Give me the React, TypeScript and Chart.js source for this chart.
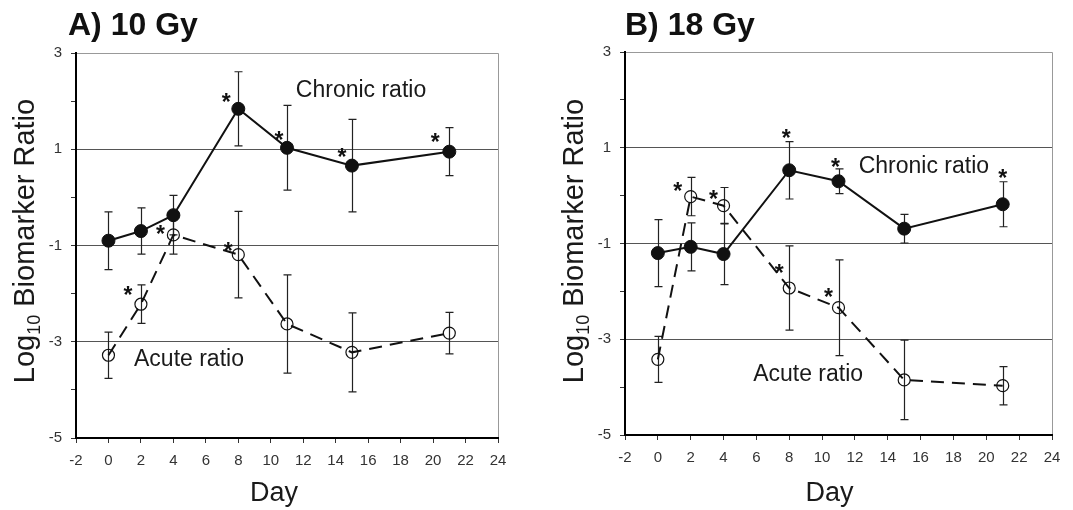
import React, { useEffect, useRef } from "react";
import { Chart, registerables } from "chart.js";

Chart.register(...registerables);

// ---------- data ----------
const DAYS = [0, 2, 4, 8, 11, 15, 21];
const X_MIN = -2;
const X_MAX = 24;
const Y_MIN = -5;
const Y_MAX = 3;
const Y_TICK_LABELS = [3, 1, -1, -3, -5];
const Y_GRID_VALUES = [1, -1, -3];

const A_CHRONIC = [-0.9, -0.7, -0.37, 1.84, 1.03, 0.66, 0.95];
const A_CHRONIC_ERR = [0.6, 0.48, 0.41, 0.77, 0.88, 0.96, 0.5];
const A_CHRONIC_SIG = [false, false, false, true, true, true, true];
const A_ACUTE = [-3.28, -2.22, -0.78, -1.19, -2.63, -3.22, -2.82];
const A_ACUTE_ERR = [0.48, 0.4, 0.4, 0.9, 1.02, 0.82, 0.43];
const A_ACUTE_SIG = [false, true, true, true, false, false, false];

const B_CHRONIC = [-1.2, -1.07, -1.22, 0.53, 0.3, -0.69, -0.18];
const B_CHRONIC_ERR = [0.7, 0.5, 0.64, 0.6, 0.26, 0.3, 0.47];
const B_CHRONIC_SIG = [false, false, false, true, true, false, true];
const B_ACUTE = [-3.42, -0.02, -0.21, -1.93, -2.34, -3.85, -3.97];
const B_ACUTE_ERR = [0.48, 0.4, 0.38, 0.88, 1.0, 0.83, 0.4];
const B_ACUTE_SIG = [false, true, true, true, true, false, false];

// ---------- layout / style ----------
const FONT = "'Liberation Sans', Arial, Helvetica, sans-serif";
const INK = "#111";

type Off = [number, number] | null;
const A_CHRONIC_STAR: Off[] = [null, null, null, [-12, -12], [-8, -13], [-10, -14], [-14, -15]];
const A_ACUTE_STAR: Off[] = [null, [-13, -14], [-13, -6], [-10, -9], null, null, null];
const B_CHRONIC_STAR: Off[] = [null, null, null, [-3, -37], [-3, -19], null, [0, -31]];
const B_ACUTE_STAR: Off[] = [null, [-13, -11], [-10, -12], [-10, -20], [-10, -16], null, null];

interface PanelCfg {
  left: number;
  width: number;
  yAxisWidth: number;
  xAxisHeight: number;
  padTop: number;
  padRight: number;
  title: string;
  titleX: number;
  yLabelX: number;
  dayShift: number;
  chronic: number[];
  chronicErr: number[];
  chronicSig: boolean[];
  chronicStar: Off[];
  acute: number[];
  acuteErr: number[];
  acuteSig: boolean[];
  acuteStar: Off[];
  chronicLabel: [number, number];
  acuteLabel: [number, number];
}

const PANELS: PanelCfg[] = [
  {
    left: 0, width: 536, yAxisWidth: 76, xAxisHeight: 72, padTop: 53, padRight: 38,
    title: "A) 10 Gy", titleX: 68, yLabelX: 34, dayShift: -13,
    chronic: A_CHRONIC, chronicErr: A_CHRONIC_ERR, chronicSig: A_CHRONIC_SIG, chronicStar: A_CHRONIC_STAR,
    acute: A_ACUTE, acuteErr: A_ACUTE_ERR, acuteSig: A_ACUTE_SIG, acuteStar: A_ACUTE_STAR,
    chronicLabel: [15.56, 2.22], acuteLabel: [4.96, -3.38],
  },
  {
    left: 536, width: 537, yAxisWidth: 89, xAxisHeight: 75, padTop: 52, padRight: 21,
    title: "B) 18 Gy", titleX: 89, yLabelX: 47, dayShift: -9,
    chronic: B_CHRONIC, chronicErr: B_CHRONIC_ERR, chronicSig: B_CHRONIC_SIG, chronicStar: B_CHRONIC_STAR,
    acute: B_ACUTE, acuteErr: B_ACUTE_ERR, acuteSig: B_ACUTE_SIG, acuteStar: B_ACUTE_STAR,
    chronicLabel: [16.2, 0.6], acuteLabel: [9.15, -3.74],
  },
];

function makeChart(canvas: HTMLCanvasElement, cfg: PanelCfg) {
  const series = [
    { vals: cfg.chronic, err: cfg.chronicErr, sig: cfg.chronicSig, star: cfg.chronicStar },
    { vals: cfg.acute, err: cfg.acuteErr, sig: cfg.acuteSig, star: cfg.acuteStar },
  ];

  const errorBars = {
    id: "errorBars",
    beforeDatasetsDraw(chart: any) {
      const { ctx } = chart;
      const xs = chart.scales.x;
      const ys = chart.scales.y;
      ctx.save();
      ctx.strokeStyle = "#222";
      ctx.lineWidth = 1.2;
      series.forEach((s) => {
        DAYS.forEach((d, i) => {
          const x = Math.round(xs.getPixelForValue(d)) + 0.5;
          const yt = ys.getPixelForValue(s.vals[i] + s.err[i]);
          const yb = ys.getPixelForValue(s.vals[i] - s.err[i]);
          ctx.beginPath();
          ctx.moveTo(x, yt);
          ctx.lineTo(x, yb);
          ctx.moveTo(x - 4, yt);
          ctx.lineTo(x + 4, yt);
          ctx.moveTo(x - 4, yb);
          ctx.lineTo(x + 4, yb);
          ctx.stroke();
        });
      });
      ctx.restore();
    },
  };

  const decorations = {
    id: "decorations",
    beforeDraw(chart: any) {
      const { ctx, chartArea } = chart;
      ctx.save();
      ctx.fillStyle = "#fff";
      ctx.fillRect(0, 0, chart.width, chart.height);
      ctx.strokeStyle = "#999";
      ctx.lineWidth = 1;
      ctx.beginPath();
      ctx.moveTo(chartArea.left, Math.round(chartArea.top) + 0.5);
      ctx.lineTo(Math.round(chartArea.right) + 0.5, Math.round(chartArea.top) + 0.5);
      ctx.lineTo(Math.round(chartArea.right) + 0.5, chartArea.bottom);
      ctx.stroke();
      ctx.restore();
    },
    afterDraw(chart: any) {
      const { ctx, chartArea } = chart;
      const xs = chart.scales.x;
      const ys = chart.scales.y;
      ctx.save();
      // asterisks
      ctx.fillStyle = INK;
      ctx.font = `bold 23px ${FONT}`;
      ctx.textAlign = "center";
      ctx.textBaseline = "alphabetic";
      series.forEach((s) => {
        DAYS.forEach((d, i) => {
          if (!s.sig[i] || !s.star[i]) return;
          const off = s.star[i] as [number, number];
          const x = xs.getPixelForValue(d) + off[0];
          const y = ys.getPixelForValue(s.vals[i]) + off[1];
          ctx.fillText("*", x, y + 23 * 0.57);
        });
      });
      // series labels
      ctx.font = `23px ${FONT}`;
      ctx.fillStyle = "#1a1a1a";
      ctx.textBaseline = "middle";
      ctx.fillText("Chronic ratio", xs.getPixelForValue(cfg.chronicLabel[0]), ys.getPixelForValue(cfg.chronicLabel[1]));
      ctx.fillText("Acute ratio", xs.getPixelForValue(cfg.acuteLabel[0]), ys.getPixelForValue(cfg.acuteLabel[1]));
      // title
      ctx.font = `bold 32px ${FONT}`;
      ctx.fillStyle = "#111";
      ctx.textAlign = "left";
      ctx.textBaseline = "alphabetic";
      ctx.fillText(cfg.title, cfg.titleX, 35);
      // x title
      ctx.font = `27px ${FONT}`;
      ctx.fillStyle = "#1a1a1a";
      ctx.textAlign = "center";
      ctx.fillText("Day", (chartArea.left + chartArea.right) / 2 + cfg.dayShift, 501);
      // y title with subscript
      const big = `29px ${FONT}`;
      const small = `18px ${FONT}`;
      ctx.font = big;
      const w1 = ctx.measureText("Log").width;
      const w3 = ctx.measureText(" Biomarker Ratio").width;
      ctx.font = small;
      const w2 = ctx.measureText("10").width;
      const total = w1 + w2 + w3;
      ctx.translate(cfg.yLabelX, 241);
      ctx.rotate(-Math.PI / 2);
      ctx.textAlign = "left";
      let x0 = -total / 2;
      ctx.font = big;
      ctx.fillText("Log", x0, 0);
      x0 += w1;
      ctx.font = small;
      ctx.fillText("10", x0, 6);
      x0 += w2;
      ctx.font = big;
      ctx.fillText(" Biomarker Ratio", x0, 0);
      ctx.restore();
    },
  };

  return new Chart(canvas, {
    type: "line",
    data: {
      datasets: [
        {
          label: "Chronic ratio",
          data: DAYS.map((d, i) => ({ x: d, y: cfg.chronic[i] })),
          borderColor: INK,
          backgroundColor: INK,
          borderWidth: 2,
          pointRadius: 6.5,
          pointBorderWidth: 1,
          pointBackgroundColor: INK,
          pointBorderColor: INK,
          tension: 0,
        },
        {
          label: "Acute ratio",
          data: DAYS.map((d, i) => ({ x: d, y: cfg.acute[i] })),
          borderColor: INK,
          backgroundColor: "rgba(0,0,0,0)",
          borderWidth: 2,
          borderDash: [13, 8],
          pointRadius: 6,
          pointBorderWidth: 1.2,
          pointBackgroundColor: "rgba(255,255,255,0)",
          pointBorderColor: INK,
          tension: 0,
        },
      ],
    },
    options: {
      responsive: false,
      animation: false,
      devicePixelRatio: 1,
      layout: { padding: { top: cfg.padTop, right: cfg.padRight, left: 0, bottom: 0 } },
      plugins: { legend: { display: false }, tooltip: { enabled: false }, title: { display: false } },
      scales: {
        x: {
          type: "linear",
          min: X_MIN,
          max: X_MAX,
          afterFit: (s: any) => { s.height = cfg.xAxisHeight; },
          ticks: { stepSize: 2, color: "#333", font: { size: 15, family: FONT }, padding: 9, maxRotation: 0, autoSkip: false },
          grid: { drawOnChartArea: false, color: "#000", tickColor: "#333", tickLength: 5 },
          border: { display: true, color: "#000", width: 2 },
        },
        y: {
          type: "linear",
          min: Y_MIN,
          max: Y_MAX,
          afterFit: (s: any) => { s.width = cfg.yAxisWidth; },
          ticks: {
            stepSize: 1,
            color: "#333",
            font: { size: 15, family: FONT },
            padding: 9,
            autoSkip: false,
            callback: (v: any) => (Y_TICK_LABELS.includes(Number(v)) ? String(v) : ""),
          },
          grid: {
            color: (c: any) => (Y_GRID_VALUES.includes(c.tick?.value) ? "#555" : "rgba(0,0,0,0)"),
            tickColor: "#333",
            tickLength: 5,
            lineWidth: 1,
          },
          border: { display: true, color: "#000", width: 2 },
        },
      },
    } as any,
    plugins: [errorBars, decorations],
  });
}

function Panel({ cfg }: { cfg: PanelCfg }) {
  const ref = useRef<HTMLCanvasElement>(null);
  useEffect(() => {
    if (!ref.current) return;
    const chart = makeChart(ref.current, cfg);
    return () => chart.destroy();
  }, [cfg]);
  return (
    <canvas
      ref={ref}
      width={cfg.width}
      height={510}
      style={{ position: "absolute", left: cfg.left, top: 0, width: cfg.width, height: 510 }}
    />
  );
}

export default function App() {
  return (
    <div style={{ position: "fixed", left: 0, top: 0, width: 1073, height: 510, background: "#fff", overflow: "hidden" }}>
      {PANELS.map((p) => (
        <Panel key={p.title} cfg={p} />
      ))}
    </div>
  );
}
